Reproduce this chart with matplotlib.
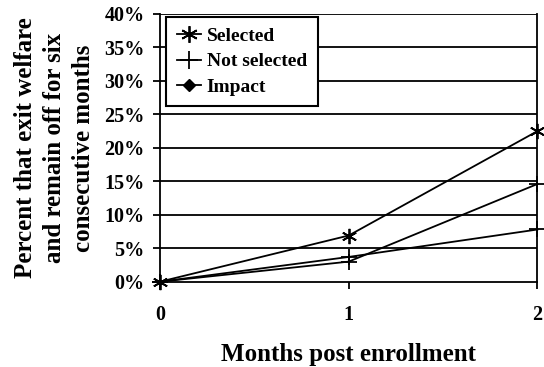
import matplotlib
matplotlib.use("Agg")
import matplotlib.pyplot as plt
from matplotlib.lines import Line2D
from matplotlib.ticker import PercentFormatter

months = [0, 1, 2]
selected = [0.0, 6.9, 22.5]
not_selected = [0.0, 3.0, 14.6]
impact = [0.0, 3.7, 7.8]
y_ticks = [0, 5, 10, 15, 20, 25, 30, 35, 40]

plt.rcParams["font.family"] = ["Liberation Serif", "DejaVu Serif"]
plt.rcParams["font.weight"] = "bold"

fig = plt.figure(figsize=(5.44, 3.67), dpi=100)
ax = fig.add_axes([0.294, 0.2324, 0.694, 0.7296])

for y in y_ticks[1:]:
    ax.axhline(y, color="black", lw=1.3, zorder=1)

ax.plot(months, selected, color="black", lw=1.3, marker=(6, 2, 0), ms=11,
        mew=1.3, clip_on=False, zorder=3)
ax.plot(months, not_selected, color="black", lw=1.3, marker="+", ms=12,
        mew=1.3, clip_on=False, zorder=3)
ax.plot(months, impact, color="black", lw=1.3, marker="+", ms=12,
        mew=1.3, clip_on=False, zorder=3)

ax.set_xlim(0, 2)
ax.set_ylim(0, 40)
ax.set_xticks(months)
ax.set_yticks(y_ticks)
ax.yaxis.set_major_formatter(PercentFormatter(decimals=0))
ax.tick_params(axis="both", direction="out", length=5, width=1.3,
               labelsize=14.5, colors="black")
ax.tick_params(axis="x", pad=12)
ax.tick_params(axis="y", pad=6)
for lab in ax.get_xticklabels() + ax.get_yticklabels():
    lab.set_fontweight("bold")

ax.spines["top"].set_visible(False)
for s in ("left", "right", "bottom"):
    ax.spines[s].set_linewidth(1.3)

ax.set_xlabel("Months post enrollment", fontsize=18, fontweight="bold", labelpad=13)
ax.set_ylabel("Percent that exit welfare\nand remain off for six\nconsecutive months",
              fontsize=18, fontweight="bold", labelpad=7, linespacing=1.33)

handles = [
    Line2D([], [], color="black", lw=1.3, marker=(6, 2, 0), ms=12, mew=1.3),
    Line2D([], [], color="black", lw=1.3, marker="+", ms=13, mew=1.3),
    Line2D([], [], color="black", lw=1.3, marker="D", ms=6),
]
leg = ax.legend(handles, ["Selected", "Not selected", "Impact"],
                loc="upper left", bbox_to_anchor=(0.016, 0.99),
                prop={"family": "Liberation Serif", "weight": "bold", "size": 14},
                handlelength=1.25, handletextpad=0.3, labelspacing=0.4,
                borderpad=0.55, borderaxespad=0.0, fancybox=False,
                framealpha=1, edgecolor="black")
for t in leg.get_texts():
    t.set_fontweight("bold")
leg.get_frame().set_linewidth(1.5)
leg.set_zorder(5)

fig.savefig("out.png", dpi=100)
